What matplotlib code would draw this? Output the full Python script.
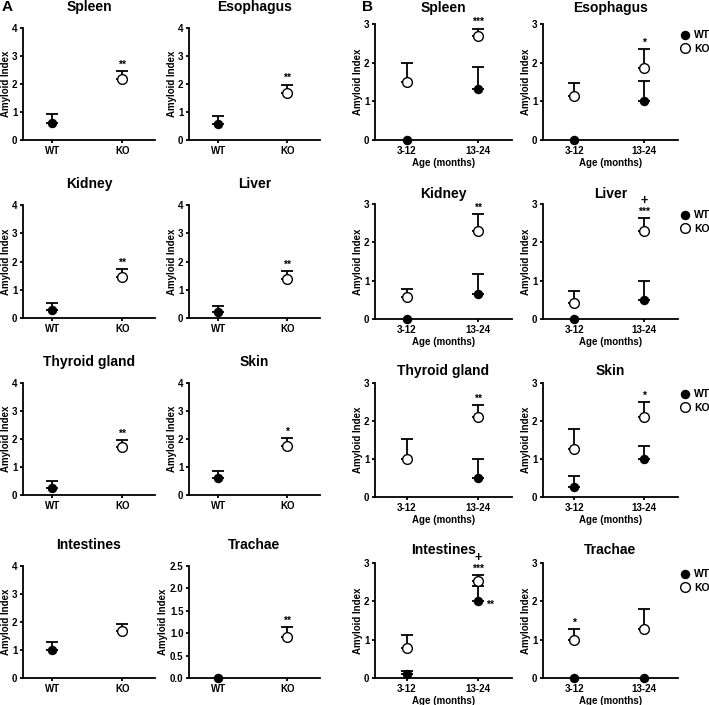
import numpy as np
import matplotlib
matplotlib.use("Agg")
import matplotlib.pyplot as plt
from matplotlib.lines import Line2D

plt.rcParams['font.family'] = ['Liberation Sans', 'DejaVu Sans']
plt.rcParams['font.weight'] = 'bold'

# ---------------- Data ----------------
organs = ["Spleen", "Esophagus", "Kidney", "Liver",
          "Thyroid gland", "Skin", "Intestines", "Trachae"]

# Panel A: WT vs KO
A_groups = ["WT", "KO"]
A_wt_mean = [0.62, 0.56, 0.28, 0.22, 0.25, 0.60, 1.00, 0.00]
A_wt_err = [0.31, 0.28, 0.24, 0.22, 0.25, 0.26, 0.27, 0.00]
A_ko_mean = [2.17, 1.68, 1.45, 1.38, 1.71, 1.75, 1.67, 0.91]
A_ko_err = [0.30, 0.30, 0.27, 0.28, 0.26, 0.27, 0.27, 0.22]
A_ko_sig = ["**", "**", "**", "**", "**", "*", "", "**"]
A_ymax = [4, 4, 4, 4, 4, 4, 4, 2.5]

# Panel B: age groups
B_ages = ["3-12", "13-24"]
B_wt_mean_young = [0.0, 0.0, 0.0, 0.0, np.nan, 0.27, 0.10, 0.0]
B_wt_err_young = [0.0, 0.0, 0.0, 0.0, 0.0, 0.28, 0.09, 0.0]
B_ko_mean_young = [1.51, 1.13, 0.57, 0.43, 0.99, 1.27, 0.79, 1.00]
B_ko_err_young = [0.49, 0.35, 0.20, 0.29, 0.54, 0.52, 0.32, 0.27]
B_wt_mean_old = [1.32, 1.00, 0.66, 0.50, 0.49, 0.99, 2.01, 0.0]
B_wt_err_old = [0.56, 0.53, 0.51, 0.49, 0.50, 0.34, 0.40, 0.0]
B_ko_mean_old = [2.70, 1.87, 2.29, 2.29, 2.11, 2.11, 2.52, 1.29]
B_ko_err_old = [0.18, 0.48, 0.45, 0.34, 0.30, 0.39, 0.16, 0.51]
B_ko_sig_old = ["***", "*", "**", "***", "**", "*", "***", ""]
B_plus_old = ["", "", "", "+", "", "", "+", ""]
B_wt_sig_old = ["", "", "", "", "", "", "**", ""]
B_ko_sig_young = ["", "", "", "", "", "", "", "*"]
B_ymax = 3

# ---------------- Layout ----------------
W, H = 709, 705
fig = plt.figure(figsize=(W / 100, H / 100), dpi=100)

colA = [(23, 155), (189, 320)]
colB = [(375, 512), (543, 678)]
rowsA = [(28, 140), (205, 318), (383, 495), (566, 678)]
rowsB = [(24, 140), (204, 319), (383, 497), (563, 678)]
titlepadB = [8.5, 4.5, 5.5, 6.5]

LW = 1.3
MS_OPEN = 7.0
MS_FILL = 5.8
FS_TICK = 7
FS_TITLE = 10


def make_ax(x0, x1, y0, y1):
    return fig.add_axes([x0 / W, 1 - y1 / H, (x1 - x0) / W, (y1 - y0) / H])


def style(ax):
    for s in ("top", "right"):
        ax.spines[s].set_visible(False)
    for s in ("left", "bottom"):
        ax.spines[s].set_linewidth(LW)
    ax.tick_params(axis='both', direction='out', length=2.5, width=LW,
                   labelsize=FS_TICK, pad=1.5)
    for lab in ax.get_xticklabels() + ax.get_yticklabels():
        lab.set_fontweight('bold')


def point(ax, x, y, err, filled):
    if np.isnan(y):
        return
    if err > 0:
        ax.errorbar([x], [y], yerr=[[0], [err]], fmt='none', ecolor='black',
                    elinewidth=LW, capsize=4, capthick=LW, zorder=2,
                    clip_on=False)
    if filled:
        ax.plot([x], [y], 'o', ms=MS_FILL, mfc='black', mec='black', mew=1.0,
                zorder=3, clip_on=False)
    else:
        ax.plot([x], [y], 'o', ms=MS_OPEN, mfc='white', mec='black', mew=1.0,
                zorder=4, clip_on=False)


def star(ax, x, y, txt, dy=1):
    if txt:
        ax.annotate(txt, (x, y), xytext=(0, dy), textcoords='offset points',
                    ha='center', va='bottom', fontsize=7.5, fontweight='bold',
                    annotation_clip=False)


# Panel A
for i, org in enumerate(organs):
    r, c = divmod(i, 2)
    ax = make_ax(colA[c][0], colA[c][1], rowsA[r][0], rowsA[r][1])
    xs = np.arange(len(A_groups))
    point(ax, xs[0], A_wt_mean[i], A_wt_err[i], True)
    point(ax, xs[1], A_ko_mean[i], A_ko_err[i], False)
    star(ax, xs[1], A_ko_mean[i] + A_ko_err[i], A_ko_sig[i])
    ax.set_xlim(-0.42, 1.47)
    ax.set_ylim(0, A_ymax[i])
    if A_ymax[i] == 4:
        ax.set_yticks([0, 1, 2, 3, 4])
    else:
        ax.set_yticks([0, 0.5, 1.0, 1.5, 2.0, 2.5])
        ax.set_yticklabels(["0.0", "0.5", "1.0", "1.5", "2.0", "2.5"])
    ax.set_xticks(xs)
    ax.set_xticklabels(A_groups)
    ax.set_ylabel("Amyloid Index", fontsize=FS_TICK, fontweight='bold', labelpad=1)
    ax.set_title(org, fontsize=FS_TITLE, fontweight='bold', pad=12)
    style(ax)

# Panel B
for i, org in enumerate(organs):
    r, c = divmod(i, 2)
    ax = make_ax(colB[c][0], colB[c][1], rowsB[r][0], rowsB[r][1])
    xs = np.arange(len(B_ages))
    point(ax, xs[0], B_ko_mean_young[i], B_ko_err_young[i], False)
    point(ax, xs[1], B_ko_mean_old[i], B_ko_err_old[i], False)
    point(ax, xs[0], B_wt_mean_young[i], B_wt_err_young[i], True)
    point(ax, xs[1], B_wt_mean_old[i], B_wt_err_old[i], True)
    top_old = B_ko_mean_old[i] + B_ko_err_old[i]
    star(ax, xs[1], top_old, B_ko_sig_old[i])
    if B_plus_old[i]:
        ax.annotate(B_plus_old[i], (xs[1], top_old), xytext=(0, 8),
                    textcoords='offset points', ha='center', va='bottom',
                    fontsize=9, fontweight='bold', annotation_clip=False)
    if B_wt_sig_old[i]:
        ax.annotate(B_wt_sig_old[i], (xs[1], B_wt_mean_old[i]), xytext=(6, -3),
                    textcoords='offset points', ha='left', va='center',
                    fontsize=7.5, fontweight='bold', annotation_clip=False)
    star(ax, xs[0], B_ko_mean_young[i] + B_ko_err_young[i], B_ko_sig_young[i])
    ax.set_xlim(-0.45, 1.48)
    ax.set_ylim(0, B_ymax)
    ax.set_yticks([0, 1, 2, 3])
    ax.set_xticks(xs)
    ax.set_xticklabels(B_ages)
    ax.set_xlabel("Age (months)", fontsize=FS_TICK, fontweight='bold', labelpad=2)
    ax.set_ylabel("Amyloid Index", fontsize=FS_TICK, fontweight='bold', labelpad=1)
    ax.set_title(org, fontsize=FS_TITLE, fontweight='bold', pad=titlepadB[r])
    style(ax)
    if c == 1:
        handles = [Line2D([], [], marker='o', ls='none', ms=MS_FILL, mfc='black', mec='black'),
                   Line2D([], [], marker='o', ls='none', ms=MS_OPEN, mfc='white', mec='black')]
        ax.legend(handles, ["WT", "KO"], loc='upper left',
                  bbox_to_anchor=(0.99, 0.98), frameon=False,
                  handlelength=0.8, handletextpad=0.5, borderaxespad=0,
                  labelspacing=0.3, prop={'size': 7.5, 'weight': 'bold'})

fig.text(2 / W, 1 - 7 / H, "A", fontsize=11, fontweight='bold', va='center', ha='left')
fig.text(362 / W, 1 - 7 / H, "B", fontsize=11, fontweight='bold', va='center', ha='left')

fig.savefig("out.png", dpi=100)
